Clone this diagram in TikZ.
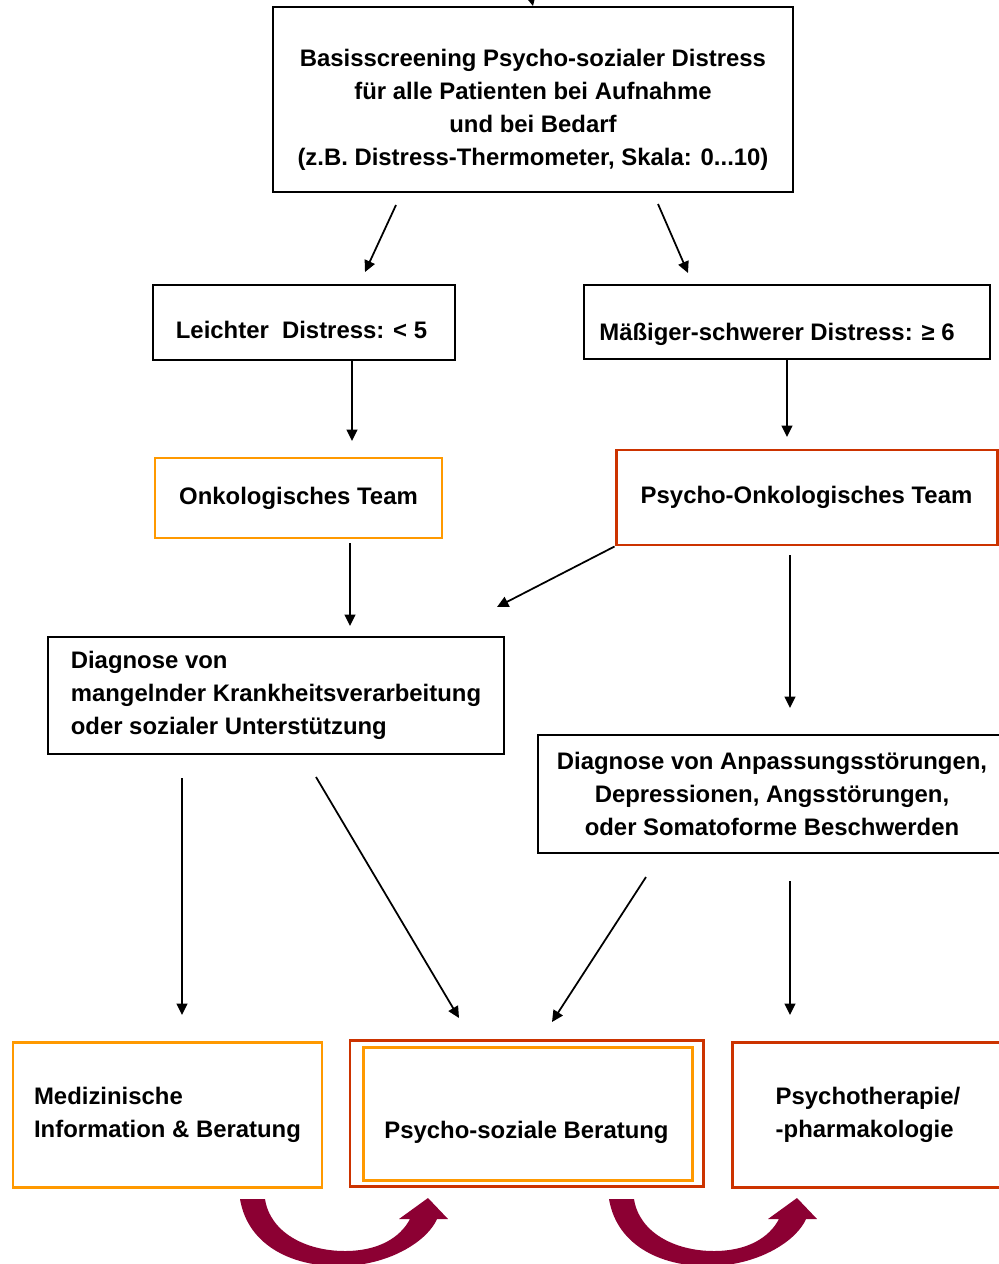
\documentclass[tikz,border=0pt]{standalone}
\usepackage{fontspec}
\setmainfont{Liberation Sans}
\usetikzlibrary{arrows.meta}
\definecolor{boxorange}{HTML}{FF9900}
\definecolor{boxred}{HTML}{CC3300}
\definecolor{bendred}{HTML}{8C0033}
\begin{document}
\begin{tikzpicture}[x=0.02cm,y=-0.02cm,
    every node/.style={font=\fontsize{13.6}{18.7}\selectfont\bfseries},
    blackbox/.style={draw=black,line width=1.1pt,inner sep=0pt,align=center},
    orangebox/.style={draw=boxorange,line width=1.7pt,inner sep=0pt,align=center},
    redbox/.style={draw=boxred,line width=1.7pt,inner sep=0pt,align=center},
    flow/.style={-{Triangle[length=6.5pt,width=6.2pt]},line width=1pt}]
  \useasboundingbox (0,0) rectangle (998,1264);
  % boxes
  \node[blackbox,minimum width=520*0.02cm,minimum height=185*0.02cm] (screen) at (533,99.5)
    {\rule{0pt}{21.3pt}Basisscreening Psycho-sozialer Distress\\für alle Patienten bei Aufnahme\\und bei Bedarf\\(z.B. Distress-Thermometer, Skala: 0...10)};
  \node[blackbox,minimum width=302*0.02cm,minimum height=75*0.02cm] (light) at (304,322.5)
    {\rule{0pt}{18.8pt}Leichter\ \ Distress: < 5\hspace*{0.1cm}};
  \node[blackbox,minimum width=406*0.02cm,minimum height=74*0.02cm] (heavy) at (787,322)
    {\rule{0pt}{23.4pt}Mäßiger-schwerer Distress: ≥ 6\hspace*{0.4cm}};
  \node[orangebox,minimum width=287*0.02cm,minimum height=80*0.02cm] (onko) at (298.5,498)
    {Onkologisches Team};
  \node[redbox,minimum width=381*0.02cm,minimum height=95*0.02cm] (psyonko) at (806.5,497.5)
    {Psycho-Onkologisches Team};
  \node[blackbox,align=left,minimum width=456*0.02cm,minimum height=117*0.02cm] (diagl) at (276,695.5)
    {Diagnose von\\mangelnder Krankheitsverarbeitung\\oder sozialer Unterstützung};
  \node[blackbox,minimum width=468*0.02cm,minimum height=118*0.02cm] (diagr) at (772,794)
    {Diagnose von Anpassungsstörungen,\\Depressionen, Angsstörungen,\\oder Somatoforme Beschwerden};
  \node[orangebox,align=left,minimum width=309*0.02cm,minimum height=145*0.02cm] (med) at (167.5,1114.5)
    {Medizinische\\Information \& Beratung};
  \node[redbox,minimum width=353*0.02cm,minimum height=146*0.02cm] (social) at (526.5,1113)
    {\rule{0pt}{31.9pt}Psycho-soziale Beratung};
  \draw[boxorange,line width=1.25pt] ([shift={(15,9)}]social.north west) rectangle ([shift={(-12,-7)}]social.south east);
  \node[redbox,align=left,minimum width=272*0.02cm,minimum height=145*0.02cm] (therapy) at (868,1114.5)
    {Psychotherapie/\\-pharmakologie};
  % arrow ends
  \coordinate (in) at (527,-20);
  \coordinate (s1) at (396,205);  \coordinate (e1) at (365,272);
  \coordinate (s2) at (658,204);  \coordinate (e2) at (688,273);
  \coordinate (s3) at (352,360);  \coordinate (e3) at (352,441);
  \coordinate (s4) at (787,360);  \coordinate (e4) at (787,437);
  \coordinate (s5) at (350,543);  \coordinate (e5) at (350,626);
  \coordinate (e6) at (497,607);
  \coordinate (s7) at (790,555);  \coordinate (e7) at (790,708);
  \coordinate (s8) at (182,778);  \coordinate (e8) at (182,1015);
  \coordinate (s9) at (316,777);  \coordinate (e9) at (459,1018);
  \coordinate (s10) at (646,877); \coordinate (e10) at (552,1022);
  \coordinate (s11) at (790,881); \coordinate (e11) at (790,1015);
  \begin{scope}[flow]
    \draw (in) to (screen.north);
    \draw (s1) to (e1);
    \draw (s2) to (e2);
    \draw (s3) to (e3);
    \draw (s4) to (e4);
    \draw (s5) to (e5);
    \draw (psyonko.south west) to (e6);
    \draw (s7) to (e7);
    \draw (s8) to (e8);
    \draw (s9) to (e9);
    \draw (s10) to (e10);
    \draw (s11) to (e11);
  \end{scope}
  % bent arrows below
  \foreach \dx in {0,369} {
    \fill[bendred,shift={(\dx,0)}] (240,1199) .. controls (248,1247) and (295,1268) .. (345,1266)
      .. controls (392,1264) and (428,1240) .. (437,1219) -- (448,1219) -- (428,1198) -- (399,1219)
      -- (410,1219) .. controls (400,1238) and (378,1251) .. (345,1251)
      .. controls (305,1251) and (270,1232) .. (265,1199) -- cycle;
  }
\end{tikzpicture}
\end{document}
